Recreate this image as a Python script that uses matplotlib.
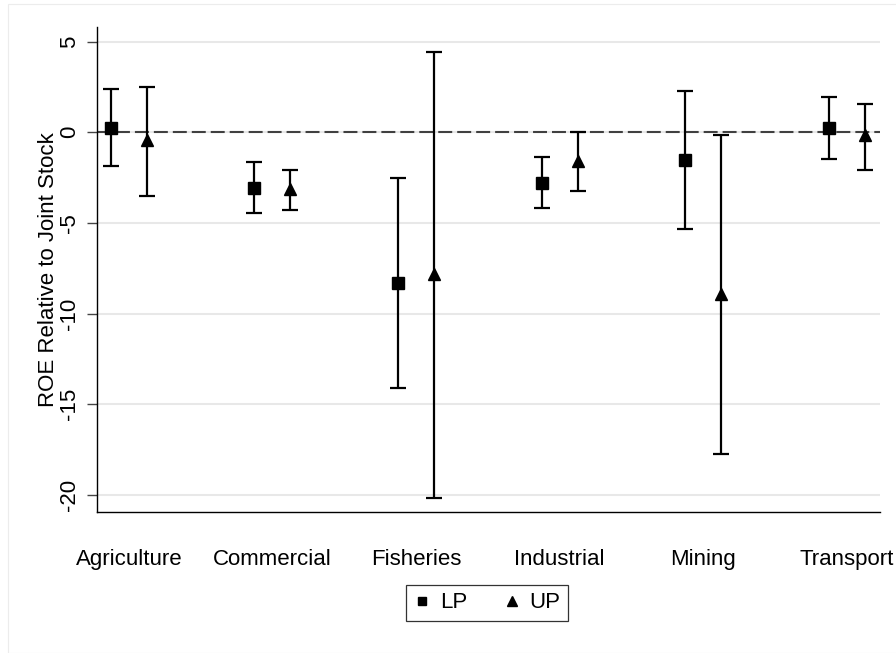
import numpy as np
import matplotlib.pyplot as plt
from matplotlib.patches import Rectangle

plt.rcParams['font.family'] = ['Liberation Sans', 'DejaVu Sans']

# Categorias y estimaciones (ROE relativo a Joint Stock)
categories = ['Agriculture', 'Commercial', 'Fisheries', 'Industrial', 'Mining', 'Transport']

lp_est = [0.25, -3.05, -8.30, -2.78, -1.55, 0.25]
lp_lo = [-1.84, -4.43, -14.12, -4.19, -5.32, -1.45]
lp_hi = [2.37, -1.62, -2.50, -1.36, 2.28, 1.95]

up_est = [-0.43, -3.14, -7.82, -1.56, -8.92, -0.16]
up_lo = [-3.50, -4.29, -20.19, -3.22, -17.76, -2.06]
up_hi = [2.48, -2.10, 4.45, 0.00, -0.15, 1.58]

yticks = [5, 0, -5, -10, -15, -20]

# Figura
fig = plt.figure(figsize=(8.96, 6.53), dpi=100)
ax = fig.add_axes([0.108, 0.2164, 0.874, 0.7423])

# Marco exterior claro
fig.patches.append(Rectangle((7.5 / 896, 0), 1.0, 1 - 4 / 653,
                             transform=fig.transFigure, fill=False,
                             edgecolor='#ececec', linewidth=0.8))

X = np.arange(1, len(categories) + 1)
off = 0.125

def draw(xs, est, lo, hi, marker, ms, label):
    est = np.array(est)
    err = [est - np.array(lo), np.array(hi) - est]
    ax.errorbar(xs, est, yerr=err, fmt='none', ecolor='black',
                elinewidth=1.6, capsize=5.5, capthick=1.6, zorder=3)
    ax.plot(xs, est, linestyle='', marker=marker, markersize=ms,
            color='black', label=label, zorder=4)

draw(X - off, lp_est, lp_lo, lp_hi, 's', 8, 'LP')
draw(X + off, up_est, up_lo, up_hi, '^', 8.5, 'UP')

# Linea de referencia en cero
ax.axhline(0, color='#404040', linestyle=(0, (6.7, 2.4)), linewidth=1.5, zorder=2)

# Eje Y
ax.set_ylim(-20.93, 5.81)
ax.set_yticks(yticks)
ax.set_yticklabels([str(t) for t in yticks], rotation=90, va='center', fontsize=16)
ax.set_ylabel('ROE Relative to Joint Stock', fontsize=16, labelpad=0)
ax.tick_params(axis='y', length=7, width=1.0, color='#444444', pad=5)

# Eje X
ax.set_xlim(0.777, 6.23)
ax.set_xticks(X)
ax.set_xticklabels(categories, fontsize=16)
ax.tick_params(axis='x', length=0, pad=27)

# Grid y bordes
ax.grid(axis='y', color='#e8e8e8', linewidth=1.5)
ax.set_axisbelow(True)
for s in ['top', 'right']:
    ax.spines[s].set_visible(False)
for s in ['left', 'bottom']:
    ax.spines[s].set_linewidth(1.0)
    ax.spines[s].set_color('black')

# Leyenda
leg = ax.legend(loc='center', bbox_to_anchor=(487 / 896, 1 - 603 / 653),
                bbox_transform=fig.transFigure, ncol=2, fontsize=16,
                frameon=True, fancybox=False, handlelength=0.8,
                handletextpad=0.4, columnspacing=1.6, borderpad=0.35,
                markerscale=0.8)
leg.get_frame().set_edgecolor('black')
leg.get_frame().set_linewidth(0.9)

plt.savefig('out.png', dpi=100)
